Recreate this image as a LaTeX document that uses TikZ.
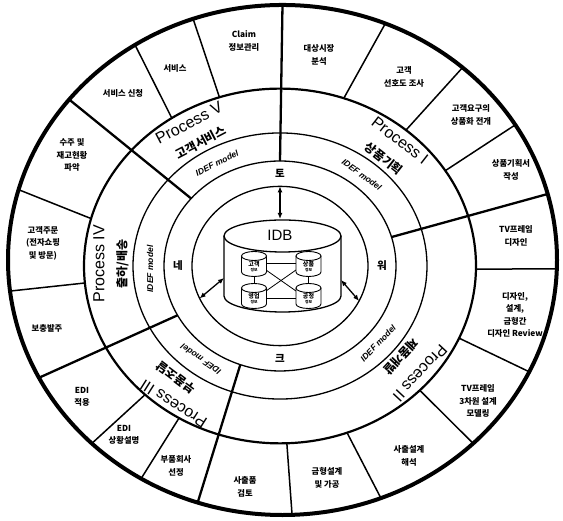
\documentclass[tikz,border=0pt]{standalone}
\usepackage{fontspec}
\setmainfont{Liberation Sans}
\newfontfamily\kr{Noto Sans CJK KR}
\usetikzlibrary{arrows.meta}
\newcommand\dbcan[4]{%
  \draw[line width=0.9pt, fill=white] (#2-12.5,#3) -- (#2-12.5,#3-16) arc[start angle=180,end angle=360,x radius=12.5,y radius=4.5] -- (#2+12.5,#3);
  \draw[line width=0.9pt, fill=white] (#2,#3) ellipse[x radius=12.5,y radius=4.5];
  \node[font=\kr\bfseries\fontsize{6}{6}\selectfont, align=center, inner sep=0pt] (#1) at (#2,#3-10.5) {#4\\[-1.5pt]{\fontsize{3.8}{3.8}\selectfont 정보}};
}
\begin{document}
\begin{tikzpicture}[x=1pt,y=1pt,
  ring/.style={line width=1.3pt},
  seg/.style={line width=1.5pt},
  pdiv/.style={line width=2.3pt},
  lab/.style={font=\kr\bfseries\fontsize{8.3}{12.5}\selectfont, align=center, inner sep=0pt},
  proc/.style={font=\fontsize{16}{16}\selectfont, inner sep=0pt},
  prock/.style={font=\kr\bfseries\fontsize{12}{12}\selectfont, inner sep=0pt},
  idef/.style={font=\bfseries\itshape\fontsize{8.5}{8.5}\selectfont, inner sep=0pt},
  net/.style={font=\kr\bfseries\fontsize{10.5}{10.5}\selectfont, inner sep=0pt},
  arr/.style={line width=1.3pt, <->, >={Latex[length=6pt,width=5pt]}},
  link/.style={line width=0.8pt}
]
\fill[white] (0,0) rectangle (563,521);
\useasboundingbox (0,0) rectangle (563,521);

% inner rings
\begin{scope}[shift={(280,255)}, yscale=0.905]
  \draw[line width=2.2pt] (0,0) circle[radius=196];
  \draw[ring] (0,0) circle[radius=147];
  \draw[ring] (0,0) circle[radius=116];
  \draw[ring] (0,0) circle[radius=88];
  \foreach \n/\t in {pa/90,pb/16,pc/250,pd/208,pe/140} {\coordinate (\n-i) at (\t:116);}
  \foreach \n/\t in {a/71,b/50,c/32.5,d/-1,e/-24,f/-44.5,g/-70,h/-88,i/239,j/226.5,k/185.5,l/164.5,m/123.5,n/108} {\coordinate (\n-i) at (\t:196);}
  \coordinate (w4t) at (90:88);
  \coordinate (w4l) at (204:88);
  \coordinate (w4r) at (-26:88);
\end{scope}

% outer ellipse points
\begin{scope}[shift={(282.5,261)}, yscale=0.929]
  \foreach \n/\t in {pa/90,pb/15,pc/252,pd/207.5,pe/141,a/68,b/49,c/32,d/-2,e/-26,f/-46,g/-69,h/-88,i/239,j/226,k/187,l/164,m/122.5,n/109} {\coordinate (\n-o) at (\t:274.5);}
\end{scope}

\foreach \n in {a,b,c,d,e,f,g,h,i,j,k,l,m,n} {\draw[seg] (\n-i) -- (\n-o);}
\foreach \n in {pa,pb,pc,pd,pe} {\draw[pdiv] (\n-i) -- (\n-o);}

\begin{scope}[shift={(282.5,261)}, yscale=0.929]
  \draw[line width=4pt] (0,0) circle[radius=274.5];
\end{scope}

% outer segment labels
\node[lab] (s1) at (319,466) {대상시장\\분석};
\node[lab] (s2) at (404,444) {고객\\선호도 조사};
\node[lab] (s3) at (471,406) {고객요구의\\상품화 전개};
\node[lab] (s4) at (511,351) {상품기획서\\작성};
\node[lab] (s5) at (516,285) {TV프레임\\디자인};
\node[lab] (s6) at (515,206) {디자인,\\설계,\\금형간\\디자인 Review};
\node[lab] (s7) at (478,120) {TV프레임\\3차원 설계\\모델링};
\node[lab] (s8) at (409,65) {사출설계\\해석};
\node[lab] (s9) at (327,43) {금형설계\\및 가공};
\node[lab] (s10) at (245,34) {사출품\\검토};
\node[lab] (s11) at (176,55) {부품회사\\선정};
\node[lab] (s12) at (124,86) {EDI\\상황설명};
\node[lab] (s13) at (82,124) {EDI\\적용};
\node[lab] (s14) at (47,193) {보충발주};
\node[lab] (s15) at (43,278) {고객주문\\(전자쇼핑\\및 방문)};
\node[lab] (s16) at (72,366) {수주 및\\재고현황\\파악};
\node[lab] (s17) at (123,428) {서비스 신청};
\node[lab] (s18) at (175,453) {서비스};
\node[lab] (s19) at (244,480) {Claim\\정보관리};

% process labels
\node[proc, rotate=27.6] (pV) at (189,398) {Process V};
\node[prock, rotate=27.6] (kV) at (201,378.6) {고객서비스};
\node[proc, rotate=-38] (pI) at (400,380.5) {Process I};
\node[prock, rotate=-38] (kI) at (384,362.5) {상품기획};
\node[proc, rotate=-133] (pII) at (420,148) {Process II};
\node[prock, rotate=-133] (kII) at (401,164) {제품개발};
\node[proc, rotate=147.6] (pIII) at (173.5,117) {Process III};
\node[prock, rotate=142.8] (kIII) at (176,143.5) {부품조달};
\node[proc, rotate=90] (pIV) at (99,257) {Process IV};
\node[prock, rotate=90] (kIV) at (122.5,257) {출하/배송};

% IDEF labels
\node[idef, rotate=26.6] (iV) at (217,358) {IDEF model};
\node[idef, rotate=-36.2] (iI) at (361.8,346.4) {IDEF model};
\node[idef, rotate=46.2] (iII) at (378.1,177.8) {IDEF model};
\node[idef, rotate=145.2] (iIII) at (200.8,161.7) {IDEF model};
\node[idef, rotate=90] (iIV) at (150,252) {IDEF model};

% network ring letters
\node[net] (nT) at (280,347.5) {토};
\node[net] (nW) at (382,255) {워};
\node[net] (nK) at (280,162.7) {크};
\node[net] (nN) at (178,255) {네};

% IDB cylinder
\draw[line width=1.3pt, fill=white] (224,285) -- (224,225) arc[start angle=180,end angle=360,x radius=58.5,y radius=16] -- (341,285);
\draw[line width=1.3pt, fill=white] (282.5,285) ellipse[x radius=58.5,y radius=16];
\node[font=\fontsize{15}{15}\selectfont, inner sep=0pt] (idb) at (280,286) {IDB};
\coordinate (cylT) at (280,302);
\coordinate (cylL) at (224,243);
\coordinate (cylR) at (341,241);
\draw[arr] (w4t) -- (cylT);
\draw[arr] (w4l) -- (cylL);
\draw[arr] (w4r) -- (cylR);

% small databases and links
\coordinate (tlR) at (266,258); \coordinate (trL) at (296,258);
\coordinate (blR) at (266,223); \coordinate (brL) at (296,223);
\coordinate (tlX) at (266,251); \coordinate (trX) at (296,251);
\coordinate (blX) at (266,230); \coordinate (brX) at (296,230);
\coordinate (tlB) at (254,245); \coordinate (blT) at (254,238);
\coordinate (trB) at (308.5,245); \coordinate (brT) at (308.5,238);
\draw[link] (tlR) -- (trL);
\draw[link] (blR) -- (brL);
\draw[link] (tlX) -- (brX);
\draw[link] (trX) -- (blX);
\draw[link] (tlB) -- (blT);
\draw[link] (trB) -- (brT);
\dbcan{db1}{254}{265}{고객}
\dbcan{db2}{308.5}{265}{상품}
\dbcan{db3}{254}{233}{영업}
\dbcan{db4}{308.5}{233}{공정}
\end{tikzpicture}
\end{document}
